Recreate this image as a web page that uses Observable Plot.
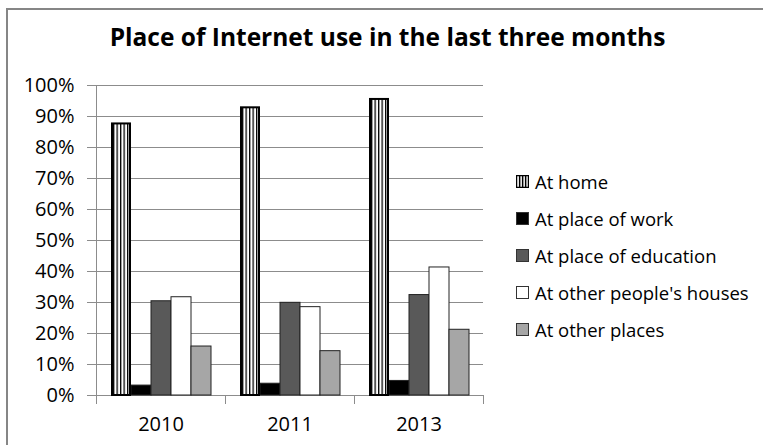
<!DOCTYPE html>
<html>
<head>
<meta charset="utf-8">
<script src="https://cdn.jsdelivr.net/npm/d3@7"></script>
<script src="https://cdn.jsdelivr.net/npm/@observablehq/plot@0.6"></script>
<style>
  html, body { margin: 0; padding: 0; background: #fff; }
  #wrap { position: relative; width: 763px; height: 445px; overflow: hidden; background: #fff; font-family: "Open Sans", sans-serif; }
  #border { position: absolute; left: 6px; top: 8px; width: 800px; height: 500px; border: 2px solid #868686; box-sizing: border-box; }
  #title { position: absolute; left: 0; width: 775px; top: 20px; text-align: center; font-size: 24.5px; font-weight: 700; color: #000; }
  #legend { position: absolute; left: 516px; top: 163px; font-size: 18.5px; color: #000; }
  .item { display: flex; align-items: center; height: 37px; }
  .item svg { margin-right: 6px; }
  #chart { position: absolute; left: 0; top: 0; }
</style>
</head>
<body>
<div id="wrap">
  <div id="border"></div>
  <div id="chart"></div>
  <div id="title">Place of Internet use in the last three months</div>
  <div id="legend"></div>
</div>
<script>
const years = ["2010", "2011", "2013"];
const categories = ["At home", "At place of work", "At place of education", "At other people's houses", "At other places"];
const atHome = [0.876, 0.928, 0.955];
const atWork = [0.032, 0.038, 0.047];
const atEducation = [0.304, 0.299, 0.324];
const atOtherHouses = [0.317, 0.285, 0.413];
const atOtherPlaces = [0.158, 0.143, 0.212];
const yTicks = [0, 0.1, 0.2, 0.3, 0.4, 0.5, 0.6, 0.7, 0.8, 0.9, 1.0];
const fills = ["url(#stripes)", "#000000", "#595959", "#ffffff", "#a6a6a6"];

const series = [atHome, atWork, atEducation, atOtherHouses, atOtherPlaces];
const data = [];
years.forEach((yr, i) => {
  categories.forEach((c, j) => data.push({year: yr, cat: c, value: series[j][i]}));
});

const chart = Plot.plot({
  width: 763,
  height: 445,
  marginLeft: 95,
  marginRight: 280,
  marginTop: 85,
  marginBottom: 50,
  style: {fontFamily: "'Open Sans', sans-serif", color: "#000", background: "transparent"},
  fx: {domain: years, padding: 0},
  x: {domain: categories, paddingInner: 0, paddingOuter: 0.725, axis: null},
  y: {domain: [0, 1]},
  color: {type: "ordinal", domain: categories, range: fills},
  marks: [
    Plot.gridY(yTicks, {stroke: "#8c8c8c", strokeOpacity: 1, strokeWidth: 1}),
    Plot.axisY(yTicks, {tickFormat: d3.format(".0%"), tickSize: 9, tickPadding: 13, fontSize: 20, stroke: "#8c8c8c", label: null}),
    Plot.frame({anchor: "left", facetAnchor: "left", stroke: "#8c8c8c", insetBottom: -8}),
    Plot.frame({anchor: "left", stroke: "#8c8c8c", insetTop: 310, insetBottom: -8}),
    Plot.frame({anchor: "right", stroke: "#8c8c8c", insetTop: 310, insetBottom: -8}),
    Plot.axisFx({anchor: "bottom", tickSize: 0, tickPadding: 21, fontSize: 20, label: null}),
    Plot.barY(data.filter(d => d.cat !== "At home"), {fx: "year", x: "cat", y: "value", fill: "cat", stroke: "#222", strokeWidth: 1}),
    Plot.barY(data.filter(d => d.cat === "At home"), {fx: "year", x: "cat", y: "value", fill: "cat", stroke: "#000", strokeWidth: 2, insetLeft: 1, insetRight: 1})
  ]
});

const ns = "http://www.w3.org/2000/svg";
function addPattern(svg, id) {
  const defs = document.createElementNS(ns, "defs");
  const pat = document.createElementNS(ns, "pattern");
  pat.setAttribute("id", id);
  pat.setAttribute("patternUnits", "userSpaceOnUse");
  pat.setAttribute("width", "3.5");
  pat.setAttribute("height", "10");
  const bg = document.createElementNS(ns, "rect");
  bg.setAttribute("width", "3.5"); bg.setAttribute("height", "10"); bg.setAttribute("fill", "#fff");
  const ln = document.createElementNS(ns, "rect");
  ln.setAttribute("width", "1.3"); ln.setAttribute("height", "10"); ln.setAttribute("fill", "#000");
  pat.appendChild(bg); pat.appendChild(ln);
  defs.appendChild(pat);
  svg.insertBefore(defs, svg.firstChild);
}
addPattern(chart, "stripes");
document.getElementById("chart").appendChild(chart);

const legend = document.getElementById("legend");
categories.forEach((c, j) => {
  const item = document.createElement("div");
  item.className = "item";
  const sw = document.createElementNS(ns, "svg");
  sw.setAttribute("width", "13"); sw.setAttribute("height", "13");
  const r = document.createElementNS(ns, "rect");
  r.setAttribute("x", "0.5"); r.setAttribute("y", "0.5");
  r.setAttribute("width", "12"); r.setAttribute("height", "12");
  if (j === 0) {
    r.setAttribute("fill", "#fff"); r.setAttribute("stroke", "#000"); r.setAttribute("stroke-width", "1.5");
    sw.appendChild(r);
    [3.5, 6.5, 9.5].forEach(x => {
      const l = document.createElementNS(ns, "rect");
      l.setAttribute("x", x - 0.6); l.setAttribute("y", "0.5"); l.setAttribute("width", "1.5"); l.setAttribute("height", "12"); l.setAttribute("fill", "#000");
      sw.appendChild(l);
    });
  } else {
    r.setAttribute("fill", fills[j]); r.setAttribute("stroke", "#333"); r.setAttribute("stroke-width", "1");
    sw.appendChild(r);
  }
  item.appendChild(sw);
  const t = document.createElement("span");
  t.textContent = c;
  item.appendChild(t);
  legend.appendChild(item);
});
</script>
</body>
</html>
